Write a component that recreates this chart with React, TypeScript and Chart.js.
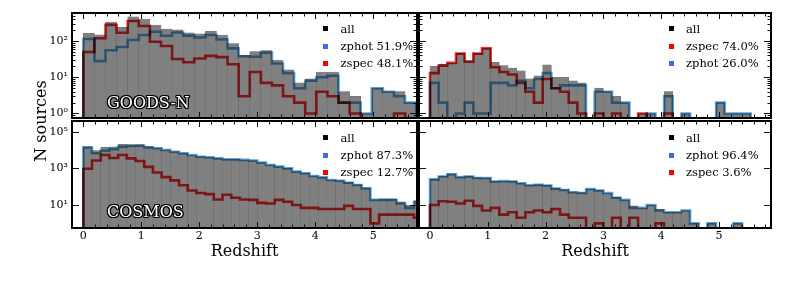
import React, { useEffect, useRef } from "react";
import { Chart, registerables } from "chart.js";

Chart.register(...registerables);

const W = 789;
const H = 282;
const FONT = "'DejaVu Serif', 'Liberation Serif', serif";

// ---------- data ----------
// GOODS-N (top-left)
const GN_BIN_WIDTH = 0.1913;
const GN_ALL = [164, 148, 336, 239, 467, 407, 278, 213, 204, 168, 159, 186, 147, 86, 41, 51, 55, 30, 16, 7, 9, 14, 14, 4, 3, 1, 5, 4, 4, 2];
const GN_ZPHOT = [114, 28, 56, 69, 107, 147, 182, 140, 172, 142, 126, 147, 111, 63, 38, 37, 48, 24, 13, 5, 8, 10, 11, 2, 2, 1, 5, 4, 3, 2];
const GN_ZSPEC = [50, 120, 280, 170, 360, 260, 96, 73, 32, 26, 33, 39, 36, 23, 3, 14, 7, 6, 3, 2, 1, 4, 3, 2, 1, 0, 0, 0, 1, 0];
const GN_LEGEND = ["all", "zphot 51.9%", "zspec 48.1%"];

// top-right field
const TR_BIN_WIDTH = 0.15;
const TR_ALL = [20, 23, 25, 46, 29, 46, 64, 26, 21, 18, 15, 9, 11, 22, 10, 10, 8, 7, 0, 5, 4, 3, 2, 0, 1, 1, 0, 4, 0, 1, 0, 0, 0, 2, 1, 1, 1];
const TR_ZSPEC = [13, 21, 25, 45, 27, 45, 63, 19, 14, 12, 7, 4, 2, 9, 5, 4, 2, 1, 0, 1, 0, 1, 0, 0, 1, 0, 0, 1, 0, 0, 0, 0, 0, 0, 0, 0, 0];
const TR_ZPHOT = [7, 2, 0, 1, 2, 1, 1, 7, 7, 6, 8, 5, 9, 13, 5, 6, 6, 6, 0, 4, 4, 2, 2, 0, 0, 1, 0, 3, 0, 1, 0, 0, 0, 2, 1, 1, 1];
const TR_LEGEND = ["all", "zspec 74.0%", "zphot 26.0%"];

// COSMOS (bottom-left)
const CO_BIN_WIDTH = 0.15;
const CO_ALL = [14950, 9300, 14400, 14700, 20300, 20100, 19500, 15200, 12990, 10330, 8320, 6720, 5362, 4345, 4039, 3520, 3136, 3125, 2920, 2669, 2063, 1532, 1259, 1015, 670, 547, 387, 326, 236, 216, 174, 129, 87, 20, 22, 22, 15, 10, 17];
const CO_ZPHOT = [14000, 6600, 9100, 11000, 15000, 16600, 17000, 14000, 12400, 10000, 8100, 6600, 5300, 4300, 4000, 3500, 3100, 3100, 2900, 2650, 2050, 1520, 1240, 1000, 660, 540, 380, 320, 230, 210, 165, 123, 81, 19, 19, 19, 12, 7, 15];
const CO_ZSPEC = [950, 2700, 5300, 3700, 5300, 3500, 2500, 1200, 590, 330, 220, 120, 62, 45, 39, 20, 36, 25, 20, 19, 13, 12, 19, 15, 10, 7, 7, 6, 6, 6, 9, 6, 6, 1, 3, 3, 3, 3, 2];
const CO_LEGEND = ["all", "zphot 87.3%", "zspec 12.7%"];

// bottom-right field
const BR_BIN_WIDTH = 0.15;
const BR_ALL = [260, 376, 495, 342, 377, 309, 305, 197, 203, 194, 157, 124, 130, 119, 84, 69, 52, 47, 74, 63, 45, 27, 19, 9, 7, 10, 6, 4, 4, 5, 1, 0, 1, 0, 0, 1, 0, 0, 0];
const BR_ZPHOT = [250, 360, 480, 330, 360, 300, 300, 190, 200, 190, 155, 120, 125, 115, 78, 66, 50, 45, 74, 62, 45, 25, 19, 7, 7, 10, 5, 4, 4, 5, 1, 0, 1, 0, 0, 1, 0, 0, 0];
const BR_ZSPEC = [10, 16, 15, 12, 17, 9, 5, 7, 3, 4, 2, 4, 5, 4, 6, 3, 2, 2, 0, 1, 0, 2, 0, 2, 0, 0, 1, 0, 0, 0, 0, 0, 0, 0, 0, 0, 0, 0, 0];
const BR_LEGEND = ["all", "zphot 96.4%", "zspec 3.6%"];

// axes
const X_TICKS = [0, 1, 2, 3, 4, 5];
const X_LABELS = ["0", "1", "2", "3", "4", "5"];
const TOP_Y_TICKS = [1, 10, 100];
const TOP_Y_LABELS = ["10\u2070", "10\u00b9", "10\u00b2"];
const BOT_Y_TICKS = [10, 1000, 100000];
const BOT_Y_LABELS = ["10\u00b9", "10\u00b3", "10\u2075"];

// ---------- styling ----------
const GREY = "rgb(128,128,128)";
const GREY_EDGE = "rgba(95,95,95,0.9)";
const LINE_BLUE = "rgb(92,165,222)";
const LINE_RED = "rgb(250,45,45)";
const MARK_BLACK = "#000000";
const MARK_BLUE = "#4169e1";
const MARK_RED = "#ff0000";
const FLOOR = 1e-3;
const YW = 60; // fixed y-axis box width
const XH = 33; // fixed x-axis box height

type Area = { left: number; top: number; right: number; bottom: number };
type Spec = {
  all: number[];
  zphot: number[];
  zspec: number[];
  width: number;
  area: Area;
  xMin: number;
  xMax: number;
  yMin: number;
  yMax: number;
  yTicks: number[];
  yLabels: string[];
  yMinor: boolean;
  showX: boolean;
  showY: boolean;
  zphotOnTop: boolean;
};

const LEFT_X = { xMin: -0.195, xMax: 5.753 };
const RIGHT_X = { xMin: -0.19, xMax: 5.9 };
const TOP_Y = { yMin: 0.751, yMax: 597 };
const BOT_Y = { yMin: 0.556, yMax: 383000 };

const SPECS: Spec[] = [
  { all: GN_ALL, zphot: GN_ZPHOT, zspec: GN_ZSPEC, width: GN_BIN_WIDTH, area: { left: 72, top: 13, right: 417, bottom: 118 }, ...LEFT_X, ...TOP_Y, yTicks: TOP_Y_TICKS, yLabels: TOP_Y_LABELS, yMinor: true, showX: false, showY: true, zphotOnTop: false },
  { all: TR_ALL, zphot: TR_ZPHOT, zspec: TR_ZSPEC, width: TR_BIN_WIDTH, area: { left: 419, top: 13, right: 771, bottom: 118 }, ...RIGHT_X, ...TOP_Y, yTicks: TOP_Y_TICKS, yLabels: TOP_Y_LABELS, yMinor: true, showX: false, showY: false, zphotOnTop: true },
  { all: CO_ALL, zphot: CO_ZPHOT, zspec: CO_ZSPEC, width: CO_BIN_WIDTH, area: { left: 72, top: 121, right: 417, bottom: 228 }, ...LEFT_X, ...BOT_Y, yTicks: BOT_Y_TICKS, yLabels: BOT_Y_LABELS, yMinor: false, showX: true, showY: true, zphotOnTop: false },
  { all: BR_ALL, zphot: BR_ZPHOT, zspec: BR_ZSPEC, width: BR_BIN_WIDTH, area: { left: 419, top: 121, right: 771, bottom: 228 }, ...RIGHT_X, ...BOT_Y, yTicks: BOT_Y_TICKS, yLabels: BOT_Y_LABELS, yMinor: false, showX: true, showY: false, zphotOnTop: false },
];

function barPoints(counts: number[], w: number) {
  return counts.map((c, i) => ({ x: (i + 0.5) * w, y: c > 0 ? c : null }));
}

function stepPoints(counts: number[], w: number) {
  const pts: { x: number; y: number }[] = [{ x: 0, y: FLOOR }];
  counts.forEach((c, i) => pts.push({ x: i * w, y: c > 0 ? c : FLOOR }));
  pts.push({ x: counts.length * w, y: FLOOR });
  return pts;
}

function framePlugin(spec: Spec) {
  return {
    id: "frameTicks",
    beforeDatasetDraw(chart: any, args: any) {
      if (args.meta.type === "line") {
        chart.ctx.save();
        chart.ctx.globalCompositeOperation = "multiply";
      }
    },
    afterDatasetDraw(chart: any, args: any) {
      if (args.meta.type === "line") chart.ctx.restore();
    },
    afterDraw(chart: any) {
      const { ctx, chartArea: a, scales } = chart;
      const xs = scales.x;
      const ys = scales.y;
      ctx.save();
      ctx.strokeStyle = "#111";
      ctx.lineWidth = 1;
      ctx.beginPath();
      const vt = (v: number, len: number) => {
        const p = Math.round(xs.getPixelForValue(v)) + 0.5;
        if (p < a.left + 1 || p > a.right - 1) return;
        ctx.moveTo(p, a.bottom);
        ctx.lineTo(p, a.bottom - len);
        ctx.moveTo(p, a.top);
        ctx.lineTo(p, a.top + len);
      };
      const ht = (v: number, len: number) => {
        const p = Math.round(ys.getPixelForValue(v)) + 0.5;
        if (p < a.top + 1 || p > a.bottom - 1) return;
        ctx.moveTo(a.left, p);
        ctx.lineTo(a.left + len, p);
        ctx.moveTo(a.right, p);
        ctx.lineTo(a.right - len, p);
      };
      X_TICKS.forEach((v) => vt(v, 6));
      for (let k = -1; k <= 30; k++) {
        const v = k * 0.2;
        if (k % 5 === 0) continue;
        if (v < spec.xMin || v > spec.xMax) continue;
        vt(v, 3.5);
      }
      spec.yTicks.forEach((v) => ht(v, 7));
      if (spec.yMinor) {
        for (let d = -1; d <= 2; d++) {
          for (let m = 2; m <= 9; m++) {
            const v = m * Math.pow(10, d);
            if (v > spec.yMin && v < spec.yMax) ht(v, 3.5);
          }
        }
      }
      ctx.stroke();
      ctx.strokeStyle = "#000";
      ctx.lineWidth = 2;
      ctx.strokeRect(a.left, a.top, a.right - a.left, a.bottom - a.top);
      ctx.restore();
    },
  };
}

function buildConfig(spec: Spec): any {
  const a = spec.area;
  const lineBase = {
    type: "line",
    stepped: true,
    pointRadius: 0,
    borderWidth: 2.6,
    fill: false,
    tension: 0,
    borderJoinStyle: "miter",
    borderCapStyle: "butt",
  };
  return {
    type: "bar",
    data: {
      datasets: [
        {
          type: "bar",
          label: "all",
          data: barPoints(spec.all, spec.width),
          backgroundColor: GREY,
          borderColor: GREY_EDGE,
          borderWidth: 0.5,
          borderSkipped: "start",
          barPercentage: 1,
          categoryPercentage: 1,
          order: 3,
        },
        {
          ...lineBase,
          label: "zphot",
          data: stepPoints(spec.zphot, spec.width),
          borderColor: LINE_BLUE,
          order: spec.zphotOnTop ? 1 : 2,
        },
        {
          ...lineBase,
          label: "zspec",
          data: stepPoints(spec.zspec, spec.width),
          borderColor: LINE_RED,
          order: spec.zphotOnTop ? 2 : 1,
        },
      ],
    },
    options: {
      animation: false,
      responsive: false,
      devicePixelRatio: 1,
      events: [],
      layout: {
        padding: {
          left: a.left - YW,
          right: W - a.right,
          top: a.top,
          bottom: H - a.bottom - XH,
        },
      },
      plugins: { legend: { display: false }, tooltip: { enabled: false } },
      scales: {
        x: {
          type: "linear",
          min: spec.xMin,
          max: spec.xMax,
          offset: false,
          grid: { display: false, drawTicks: false },
          border: { display: false },
          ticks: {
            display: spec.showX,
            autoSkip: false,
            maxRotation: 0,
            padding: 2,
            color: "#000",
            font: { family: FONT, size: 11 },
            callback: (_v: any, i: number) => X_LABELS[i],
          },
          title: {
            display: spec.showX,
            text: "Redshift",
            color: "#000",
            padding: 0,
            font: { family: FONT, size: 16 },
          },
          afterBuildTicks: (s: any) => {
            s.ticks = X_TICKS.map((v) => ({ value: v }));
          },
          afterFit: (s: any) => {
            s.height = XH;
            s.paddingLeft = 0;
            s.paddingRight = 0;
          },
        },
        y: {
          type: "logarithmic",
          min: spec.yMin,
          max: spec.yMax,
          grid: { display: false, drawTicks: false },
          border: { display: false },
          ticks: {
            display: spec.showY,
            autoSkip: false,
            padding: 4,
            color: "#000",
            font: { family: FONT, size: 11 },
            callback: (_v: any, i: number) => spec.yLabels[i],
          },
          afterBuildTicks: (s: any) => {
            s.ticks = spec.yTicks.map((v) => ({ value: v }));
          },
          afterFit: (s: any) => {
            s.width = YW;
            s.paddingTop = 0;
            s.paddingBottom = 0;
          },
        },
      },
    },
    plugins: [framePlugin(spec)],
  };
}

function Panel({ spec }: { spec: Spec }) {
  const ref = useRef<HTMLCanvasElement | null>(null);
  useEffect(() => {
    if (!ref.current) return;
    const chart = new Chart(ref.current, buildConfig(spec));
    return () => chart.destroy();
  }, [spec]);
  return (
    <canvas
      ref={ref}
      width={W}
      height={H}
      style={{ position: "absolute", left: 0, top: 0, width: W, height: H }}
    />
  );
}

function Legend({ markX, textX, rowsY, labels, colors }: { markX: number; textX: number; rowsY: number[]; labels: string[]; colors: string[] }) {
  return (
    <>
      {labels.map((lab, i) => (
        <React.Fragment key={lab}>
          <div
            style={{
              position: "absolute",
              left: markX - 2.5,
              top: rowsY[i] - 2.5,
              width: 5,
              height: 5,
              background: colors[i],
            }}
          />
          <div
            style={{
              position: "absolute",
              left: textX,
              top: rowsY[i] - 8,
              height: 16,
              lineHeight: "16px",
              fontFamily: FONT,
              fontSize: 11.5,
              color: "#000",
              whiteSpace: "nowrap",
            }}
          >
            {lab}
          </div>
        </React.Fragment>
      ))}
    </>
  );
}

const OUTLINE = [
  [-1.3, 0], [1.3, 0], [0, -1.3], [0, 1.3], [-0.95, -0.95], [0.95, -0.95], [-0.95, 0.95], [0.95, 0.95],
].map(([x, y]) => `${x}px ${y}px 0 #000`).join(", ");

function FieldLabel({ text, left, cy }: { text: string; left: number; cy: number }) {
  return (
    <div
      style={{
        position: "absolute",
        left,
        top: cy - 10,
        height: 20,
        lineHeight: "20px",
        fontFamily: FONT,
        fontSize: 16,
        color: "#fff",
        textShadow: OUTLINE,
        whiteSpace: "nowrap",
      }}
    >
      {text}
    </div>
  );
}

export default function App() {
  const topRows = [28.5, 46, 63];
  const botRows = [137.7, 155, 172.3];
  return (
    <div style={{ position: "absolute", left: 0, top: 0, width: W, height: H, background: "#fff", overflow: "hidden" }}>
      {SPECS.map((s, i) => (
        <Panel key={i} spec={s} />
      ))}
      <Legend markX={325.5} textX={340.5} rowsY={topRows} labels={GN_LEGEND} colors={[MARK_BLACK, MARK_BLUE, MARK_RED]} />
      <Legend markX={671} textX={686} rowsY={topRows} labels={TR_LEGEND} colors={[MARK_BLACK, MARK_RED, MARK_BLUE]} />
      <Legend markX={325.5} textX={340.5} rowsY={botRows} labels={CO_LEGEND} colors={[MARK_BLACK, MARK_BLUE, MARK_RED]} />
      <Legend markX={671} textX={686} rowsY={botRows} labels={BR_LEGEND} colors={[MARK_BLACK, MARK_BLUE, MARK_RED]} />
      <FieldLabel text="GOODS-N" left={107} cy={102.5} />
      <FieldLabel text="COSMOS" left={107} cy={211.5} />
      <div
        style={{
          position: "absolute",
          left: 41 - 60,
          top: 120.5 - 10,
          width: 120,
          height: 20,
          lineHeight: "20px",
          textAlign: "center",
          fontFamily: FONT,
          fontSize: 16,
          color: "#000",
          transform: "rotate(-90deg)",
          whiteSpace: "nowrap",
        }}
      >
        N sources
      </div>
    </div>
  );
}
